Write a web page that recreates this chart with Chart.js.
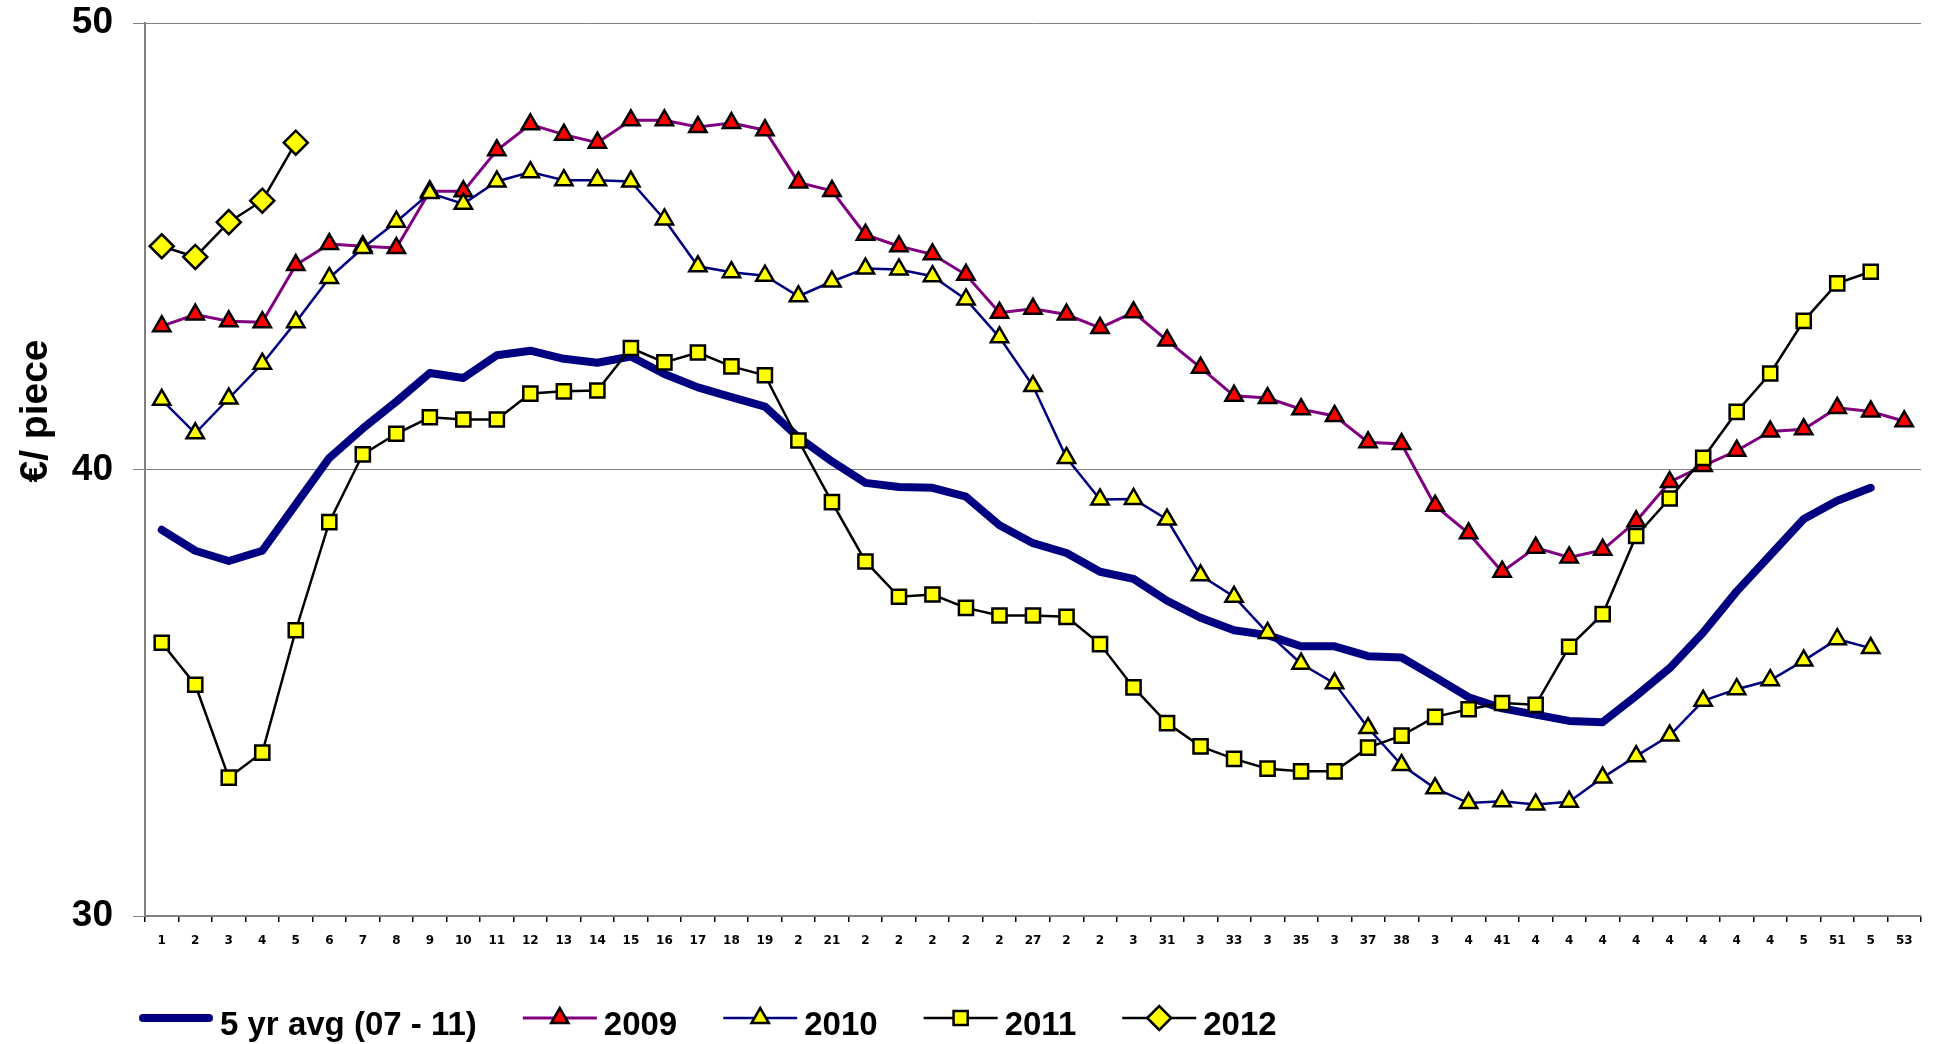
<!DOCTYPE html>
<html>
<head>
<meta charset="utf-8">
<title>€/ piece</title>
<script src="https://cdn.jsdelivr.net/npm/chart.js@4.4.0/dist/chart.umd.min.js"></script>
<style>
  html, body { margin: 0; padding: 0; background: #fff; }
  canvas { display: block; }
</style>
</head>
<body>
<canvas id="priceChart" width="1941" height="1044"></canvas>
<script>
// week numbers as they appear under the axis
const weekLabels = ['1', '2', '3', '4', '5', '6', '7', '8', '9', '10', '11', '12', '13', '14', '15', '16', '17', '18', '19',
    '2', '21', '2', '2', '2', '2', '2', '27', '2', '2', '3', '31', '3', '33', '3', '35', '3', '37', '38', '3', '4', '41',
    '4', '4', '4', '4', '4', '4', '4', '4', '5', '51', '5', '53'];

const avg5yr = [38.65, 38.18, 37.95, 38.18, 39.22, 40.26, 40.92, 41.52, 42.16, 42.05, 42.56, 42.66, 42.48, 42.39, 42.53,
    42.14, 41.84, 41.62, 41.41, 40.72, 40.18, 39.70, 39.61, 39.59, 39.39, 38.75, 38.35, 38.13, 37.71, 37.55, 37.06, 36.68,
    36.40, 36.29, 36.04, 36.04, 35.82, 35.79, 35.35, 34.90, 34.65, 34.51, 34.37, 34.34, 34.93, 35.55, 36.35, 37.27, 38.08,
    38.89, 39.30, 39.59, null];

const prices2009 = [43.21, 43.47, 43.32, 43.30, 44.58, 45.05, 45.00, 44.96, 46.23, 46.23, 47.15, 47.73, 47.50, 47.32, 47.82,
    47.82, 47.67, 47.76, 47.60, 46.43, 46.24, 45.26, 45.00, 44.82, 44.36, 43.51, 43.60, 43.47, 43.17, 43.52, 42.89, 42.28,
    41.65, 41.60, 41.35, 41.20, 40.61, 40.57, 39.19, 38.57, 37.71, 38.25, 38.03, 38.20, 38.84, 39.72, 40.08, 40.42, 40.85,
    40.90, 41.38, 41.30, 41.08];

const prices2010 = [41.56, 40.81, 41.59, 42.37, 43.30, 44.29, 44.96, 45.55, 46.19, 45.95, 46.45, 46.66, 46.48, 46.48, 46.45,
    45.60, 44.55, 44.42, 44.34, 43.88, 44.21, 44.50, 44.48, 44.33, 43.81, 42.96, 41.87, 40.26, 39.33, 39.34, 38.88, 37.63,
    37.15, 36.34, 35.65, 35.21, 34.21, 33.38, 32.86, 32.53, 32.57, 32.50, 32.56, 33.10, 33.58, 34.04, 34.82, 35.08, 35.28,
    35.72, 36.20, 36.00, null];

const prices2011 = [36.12, 35.18, 33.10, 33.66, 36.40, 38.82, 40.34, 40.80, 41.17, 41.12, 41.12, 41.70, 41.75, 41.77, 42.72,
    42.40, 42.62, 42.31, 42.11, 40.65, 39.27, 37.94, 37.15, 37.20, 36.90, 36.73, 36.73, 36.70, 36.09, 35.12, 34.32, 33.80,
    33.52, 33.30, 33.24, 33.24, 33.77, 34.04, 34.46, 34.63, 34.77, 34.73, 36.03, 36.76, 38.51, 39.35, 40.26, 41.29, 42.15,
    43.33, 44.17, 44.43, null];

const prices2012 = [45.00, 44.76, 45.54, 46.02, 47.32];

const yTicks = [30, 40, 50];

const fontBold = '"Liberation Sans", Arial, sans-serif';

// legend under the plot (line sample with the marker in the middle) and the rotated y title
const sideTexts = {
    id: 'sideTexts',
    afterDraw(chart) {
        const ctx = chart.ctx;

        ctx.save();
        ctx.translate(47, 411);
        ctx.rotate(-Math.PI / 2);
        ctx.font = 'bold 39px ' + fontBold;
        ctx.fillStyle = '#000';
        ctx.textAlign = 'center';
        ctx.textBaseline = 'alphabetic';
        ctx.fillText('€/ piece', 0, 0);
        ctx.restore();

        ctx.save();
        ctx.font = 'bold 33px ' + fontBold;
        ctx.textBaseline = 'alphabetic';
        ctx.textAlign = 'left';
        const lineY = 1018;
        const sample = 74;
        let x = 139;
        chart.data.datasets.forEach(ds => {
            const round = ds.borderCapStyle === 'round';
            const inset = round ? ds.borderWidth / 2 : 0;
            ctx.strokeStyle = ds.borderColor;
            ctx.lineWidth = ds.borderWidth;
            ctx.lineCap = round ? 'round' : 'butt';
            ctx.beginPath();
            ctx.moveTo(x + inset, lineY);
            ctx.lineTo(x + sample - inset, lineY);
            ctx.stroke();

            if (ds.pointRadius > 0) {
                ctx.fillStyle = ds.pointBackgroundColor;
                ctx.strokeStyle = ds.pointBorderColor;
                ctx.lineWidth = ds.pointBorderWidth;
                ctx.lineJoin = 'miter';
                Chart.helpers.drawPoint(ctx, {
                    pointStyle: ds.pointStyle,
                    radius: ds.pointRadius,
                    rotation: 0,
                    borderWidth: ds.pointBorderWidth
                }, x + sample / 2, lineY);
            }

            ctx.fillStyle = '#000';
            ctx.fillText(ds.label, x + sample + 7, 1035);
            x += sample + 7 + ctx.measureText(ds.label).width + 46;
        });
        ctx.restore();
    }
};

function markerSeries(label, data, lineColor, lineWidth, style, fill, radius, order) {
    return {
        label: label,
        data: data,
        borderColor: lineColor,
        borderWidth: lineWidth,
        pointStyle: style,
        pointRadius: radius,
        pointHoverRadius: radius,
        pointBackgroundColor: fill,
        pointBorderColor: '#000000',
        pointBorderWidth: 2.5,
        tension: 0,
        fill: false,
        order: order
    };
}

const ctx = document.getElementById('priceChart').getContext('2d');
new Chart(ctx, {
    type: 'line',
    data: {
        labels: weekLabels,
        datasets: [
            {
                label: '5 yr avg (07 - 11)',
                data: avg5yr,
                borderColor: '#000080',
                borderWidth: 8,
                borderCapStyle: 'round',
                borderJoinStyle: 'round',
                pointRadius: 0,
                pointHoverRadius: 0,
                tension: 0,
                fill: false,
                order: 5
            },
            markerSeries('2009', prices2009, '#800080', 3, 'triangle', '#FF0000', 10, 4),
            markerSeries('2010', prices2010, '#000080', 2.5, 'triangle', '#FFFF00', 10, 3),
            markerSeries('2011', prices2011, '#000000', 2.5, 'rect', '#FFFF00', 10, 2),
            markerSeries('2012', prices2012, '#000000', 2.5, 'rectRot', '#FFFF00', 12, 1)
        ]
    },
    options: {
        responsive: false,
        animation: false,
        devicePixelRatio: 1,
        layout: { padding: { top: 23, right: 20, left: 0, bottom: 0 } },
        plugins: {
            legend: { display: false },
            tooltip: { enabled: false }
        },
        scales: {
            x: {
                offset: true,
                grid: {
                    offset: true,
                    drawOnChartArea: false,
                    drawTicks: true,
                    tickLength: 6,
                    color: '#000000',
                    lineWidth: 1.5
                },
                border: { color: '#808080', width: 2 },
                ticks: {
                    autoSkip: false,
                    maxRotation: 0,
                    minRotation: 0,
                    padding: 12,
                    color: '#000000',
                    font: { family: '"DejaVu Sans", Verdana, sans-serif', weight: 'bold', size: 12 }
                },
                afterFit(scale) {
                    scale.height = 128;
                    scale.paddingLeft = 0;
                    scale.paddingRight = 0;
                }
            },
            y: {
                min: 30,
                max: 50,
                afterBuildTicks(scale) { scale.ticks = yTicks.map(v => ({ value: v })); },
                ticks: {
                    padding: 20,
                    color: '#000000',
                    font: { family: fontBold, weight: 'bold', size: 37 }
                },
                grid: { color: '#808080', lineWidth: 1, tickLength: 12 },
                border: { color: '#808080', width: 2 },
                afterFit(scale) {
                    scale.width = 145;
                    scale.paddingTop = 0;
                    scale.paddingBottom = 0;
                }
            }
        }
    },
    plugins: [sideTexts]
});
</script>
</body>
</html>
